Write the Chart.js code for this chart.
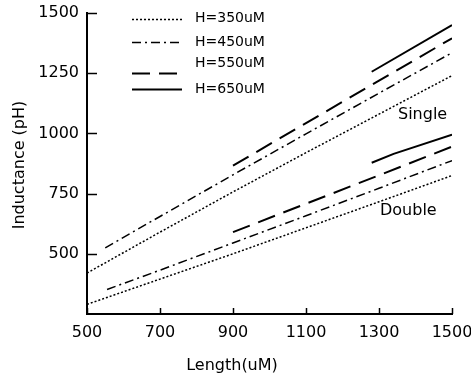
<!DOCTYPE html>
<html>
<head>
<meta charset="utf-8">
<script src="https://cdn.jsdelivr.net/npm/chart.js@4/dist/chart.umd.min.js"></script>
<style>
  body { margin: 0; background: #fff; }
  canvas { display: block; }
</style>
</head>
<body>
<canvas id="chart" width="471" height="379"></canvas>
<script>
// Tick labels
const xTicks = [500, 700, 900, 1100, 1300, 1500];
const yTicks = [500, 750, 1000, 1250, 1500];

// Series names (one legend entry per height)
const seriesNames = ["H=350uM", "H=450uM", "H=550uM", "H=650uM"];

// Single inductor curves: lengths (uM) and inductance (pH)
const singleX350 = [500, 700, 900, 1100, 1300, 1500];
const singleY350 = [420, 590, 757, 920, 1080, 1240];
const singleX450 = [550, 700, 900, 1100, 1300, 1500];
const singleY450 = [525, 655, 828, 998, 1167, 1335];
const singleX550 = [900, 1100, 1300, 1500];
const singleY550 = [866, 1043, 1219, 1395];
const singleX650 = [1280, 1500];
const singleY650 = [1256, 1450];

// Double inductor curves
const doubleX350 = [500, 700, 900, 1100, 1300, 1500];
const doubleY350 = [290, 395, 500, 608, 716, 825];
const doubleX450 = [555, 700, 900, 1100, 1300, 1500];
const doubleY450 = [352, 432, 545, 658, 772, 887];
const doubleX550 = [900, 1100, 1300, 1500];
const doubleY550 = [590, 708, 826, 945];
const doubleX650 = [1280, 1340, 1500];
const doubleY650 = [878, 915, 995];

const FONT = "'DejaVu Sans', sans-serif";

// line style per height: dotted, dash-dot, dashed, solid
const styles = [
  { borderDash: [2, 2], borderWidth: 1.5 },
  { borderDash: [9, 4, 2, 4], borderWidth: 1.5 },
  { borderDash: [18, 9], borderWidth: 2 },
  { borderDash: [], borderWidth: 2 },
];

function pts(xs, ys) {
  return xs.map((x, i) => ({ x: x, y: ys[i] }));
}

function makeSet(label, xs, ys, k) {
  return {
    label: label,
    data: pts(xs, ys),
    borderColor: "#000",
    borderWidth: styles[k].borderWidth,
    borderDash: styles[k].borderDash,
    pointRadius: 0,
    fill: false,
    tension: 0,
  };
}

const singleXs = [singleX350, singleX450, singleX550, singleX650];
const singleYs = [singleY350, singleY450, singleY550, singleY650];
const doubleXs = [doubleX350, doubleX450, doubleX550, doubleX650];
const doubleYs = [doubleY350, doubleY450, doubleY550, doubleY650];

const datasets = [];
seriesNames.forEach((name, k) => datasets.push(makeSet(name, singleXs[k], singleYs[k], k)));
seriesNames.forEach((name, k) => datasets.push(makeSet(name + " double", doubleXs[k], doubleYs[k], k)));

// inward ticks, legend, titles and the Single/Double labels
const decor = {
  id: "decor",
  afterDraw(chart) {
    const { ctx, chartArea: a, scales: { x, y } } = chart;
    ctx.save();
    ctx.strokeStyle = "#000";
    ctx.lineWidth = 1.5;
    yTicks.forEach(v => {
      const py = Math.round(y.getPixelForValue(v)) + 0.5;
      ctx.beginPath();
      ctx.moveTo(a.left, py);
      ctx.lineTo(a.left + 10, py);
      ctx.stroke();
    });
    xTicks.forEach(v => {
      const px = Math.round(x.getPixelForValue(v)) + 0.5;
      ctx.beginPath();
      ctx.moveTo(px, a.bottom);
      ctx.lineTo(px, a.bottom - 6);
      ctx.stroke();
    });

    // legend
    const rowText = [18, 42, 63, 89];
    const rowLine = [19, 42, 73, 89];
    ctx.font = "14px " + FONT;
    ctx.fillStyle = "#000";
    ctx.textBaseline = "middle";
    ctx.textAlign = "left";
    seriesNames.forEach((name, k) => {
      ctx.save();
      ctx.lineWidth = styles[k].borderWidth;
      ctx.setLineDash(styles[k].borderDash);
      ctx.beginPath();
      ctx.moveTo(132, rowLine[k] + 0.5);
      ctx.lineTo(182, rowLine[k] + 0.5);
      ctx.stroke();
      ctx.restore();
      ctx.fillText(name, 195, rowText[k]);
    });

    // group labels
    ctx.font = "16px " + FONT;
    ctx.fillText("Single", 398, 115);
    ctx.fillText("Double", 380, 211);

    // axis titles
    ctx.textAlign = "center";
    ctx.fillText("Length(uM)", 232, 366);
    ctx.translate(20, 165);
    ctx.rotate(-Math.PI / 2);
    ctx.fillText("Inductance (pH)", 0, 0);
    ctx.restore();
  },
};

new Chart(document.getElementById("chart").getContext("2d"), {
  type: "line",
  data: { datasets: datasets },
  options: {
    responsive: false,
    animation: false,
    layout: { padding: { left: 0, top: 13, right: 19, bottom: 0 } },
    plugins: { legend: { display: false }, tooltip: { enabled: false } },
    scales: {
      x: {
        type: "linear",
        min: 500,
        max: 1500,
        afterBuildTicks: s => { s.ticks = xTicks.map(v => ({ value: v })); },
        afterFit: s => { s.height = 65; s.paddingLeft = 0; s.paddingRight = 0; },
        grid: { display: false, drawTicks: false },
        border: { display: true, color: "#000", width: 2 },
        ticks: { color: "#000", font: { family: FONT, size: 16 }, padding: 9, maxRotation: 0,
                 callback: v => String(v) },
      },
      y: {
        type: "linear",
        min: 250,
        max: 1500,
        afterBuildTicks: s => { s.ticks = yTicks.map(v => ({ value: v })); },
        afterFit: s => { s.width = 87; s.paddingTop = 0; s.paddingBottom = 0; },
        grid: { display: false, drawTicks: false },
        border: { display: true, color: "#000", width: 2 },
        ticks: { color: "#000", font: { family: FONT, size: 16 }, padding: 8,
                 callback: v => String(v) },
      },
    },
  },
  plugins: [decor],
});
</script>
</body>
</html>
